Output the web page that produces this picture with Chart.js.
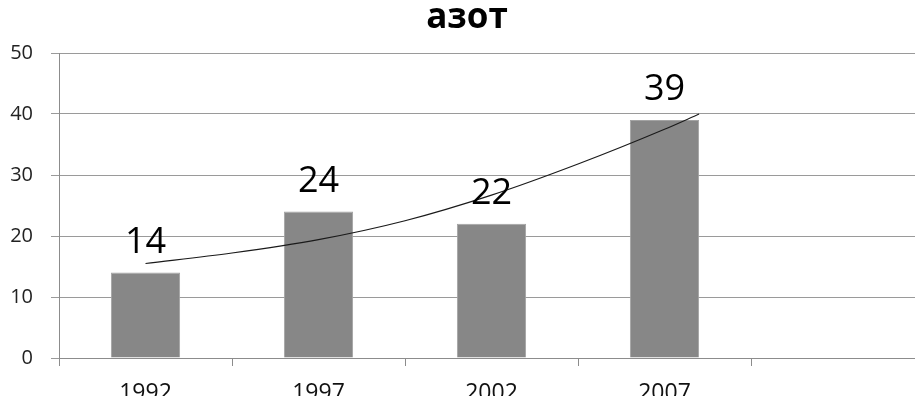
<!DOCTYPE html>
<html>
<head>
<meta charset="utf-8">
<script src="https://cdn.jsdelivr.net/npm/chart.js@4.4.1/dist/chart.umd.min.js"></script>
<style>
  html, body { margin: 0; padding: 0; background: #fff; overflow: hidden; }
  #wrap { width: 924px; height: 396px; position: relative; }
</style>
</head>
<body>
<div id="wrap"><canvas id="chart"></canvas></div>
<script>
// Nitrogen figures by survey year
const chartTitle = 'азот';
const years = ['1992', '1997', '2002', '2007', ''];
const nitrogen = [14, 24, 22, 39, null];

// Trend curve sampled at category positions (1 = first year)
const trendX = [1, 1.5, 2, 2.5, 3, 3.5, 4, 4.2];
const trendY = [15.5, 17.2, 19.4, 22.5, 26.7, 31.8, 37.5, 40.0];

// Value axis
const yMin = 0;
const yMax = 50;
const yStep = 10;

const FONT = 'Open Sans';

// Writes each bar's value above it
const barValueLabels = {
  id: 'barValueLabels',
  afterDatasetsDraw(chart) {
    const meta = chart.getDatasetMeta(0);
    const ctx = chart.ctx;
    ctx.save();
    ctx.font = '36px "' + FONT + '"';
    ctx.fillStyle = '#000';
    ctx.textAlign = 'center';
    ctx.textBaseline = 'alphabetic';
    meta.data.forEach((bar, i) => {
      const v = nitrogen[i];
      if (v == null) return;
      ctx.fillText(String(v), bar.x, bar.y - 20);
    });
    ctx.restore();
  }
};

new Chart(document.getElementById('chart'), {
  type: 'bar',
  data: {
    labels: years,
    datasets: [
      {
        type: 'bar',
        data: nitrogen,
        backgroundColor: '#878787',
        borderColor: '#a3a3a3',
        borderWidth: 1,
        barPercentage: 0.4,
        categoryPercentage: 1.0,
        grouped: false,
        order: 2
      },
      {
        type: 'line',
        xAxisID: 'xt',
        data: trendX.map((x, i) => ({ x: x, y: trendY[i] })),
        borderColor: '#1a1a1a',
        borderWidth: 1.1,
        pointRadius: 0,
        fill: false,
        cubicInterpolationMode: 'monotone',
        order: 1
      }
    ]
  },
  options: {
    responsive: true,
    maintainAspectRatio: false,
    animation: false,
    layout: { padding: { left: 10, right: 0, top: 0, bottom: 0 } },
    plugins: {
      legend: { display: false },
      tooltip: { enabled: false },
      title: {
        display: true,
        text: chartTitle,
        color: '#000',
        font: { family: FONT, size: 35, weight: 'bold', lineHeight: 1.0 },
        padding: { top: 1, bottom: 17 }
      }
    },
    scales: {
      x: {
        type: 'category',
        offset: true,
        grid: {
          display: true,
          drawOnChartArea: false,
          drawTicks: true,
          tickLength: 8,
          color: '#8c8c8c',
          offset: true
        },
        border: { display: true, color: '#8c8c8c' },
        ticks: {
          font: { family: FONT, size: 23 },
          color: '#111',
          padding: 14,
          maxRotation: 0,
          autoSkip: false
        },
        afterFit(scale) { scale.height = 38; }
      },
      xt: {
        type: 'linear',
        display: false,
        offset: false,
        grid: { offset: false },
        min: 0.5,
        max: 5.5
      },
      y: {
        min: yMin,
        max: yMax,
        ticks: {
          stepSize: yStep,
          font: { family: FONT, size: 20 },
          color: '#222',
          padding: 18
        },
        grid: { color: '#9a9a9a', tickLength: 8 },
        border: { color: '#8c8c8c' },
        afterFit(scale) { scale.width = 49; }
      }
    }
  },
  plugins: [barValueLabels]
});
</script>
</body>
</html>
